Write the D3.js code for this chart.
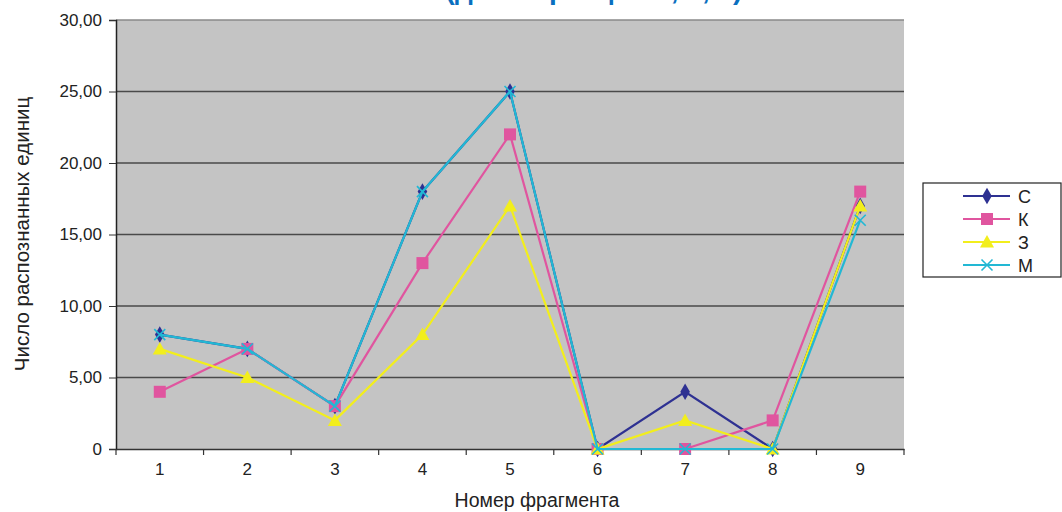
<!DOCTYPE html>
<html><head><meta charset="utf-8">
<script src="https://cdn.jsdelivr.net/npm/d3@7"></script>
<style>body{margin:0;background:#fff;}svg{display:block;}</style>
</head><body>
<svg id="c" width="1062" height="512"></svg>
<script>
const categories = ["1","2","3","4","5","6","7","8","9"];
const seriesNames = ["С","К","З","М"];
const valuesC = [8,7,3,18,25,0,4,0,17];
const valuesK = [4,7,3,13,22,0,0,2,18];
const valuesZ = [7,5,2,8,17,0,2,0,17];
const valuesM = [8,7,3,18,25,0,0,0,16];
const yTicks = [0,5,10,15,20,25,30];
const colors = ["#2e3192","#e0559f","#f2ee1c","#22b8d4"];
const markers = ["diamond","square","triangle","x"];
const titleText = "(для образцов 1, 2, 3)";
const xTitle = "Номер фрагмента";
const yTitle = "Число распознанных единиц";

const series = [valuesC, valuesK, valuesZ, valuesM];
const svg = d3.select("#c");
const font = "'Liberation Sans', Arial, sans-serif";
const L = 116, R = 904, T = 20, B = 449;

const x = d3.scaleBand().domain(categories).range([L, R]);
const y = d3.scaleLinear().domain([0, 30]).range([B, T]);

// title (clipped at the top edge, as in the reference)
svg.append("text").attr("x", 594).attr("y", -1).attr("text-anchor","middle")
  .attr("font-family", font).attr("font-weight","bold").attr("font-size", 28)
  .attr("fill","#0a6fbf").text(titleText);

// plot background
svg.append("rect").attr("x", L).attr("y", T).attr("width", R - L).attr("height", B - T)
  .attr("fill", "#c4c4c4");

// gridlines
svg.append("g").selectAll("line").data(yTicks.filter(d => d > 0)).join("line")
  .attr("x1", L).attr("x2", R).attr("y1", d => y(d)).attr("y2", d => y(d))
  .attr("stroke", d => d === 30 ? "#8a8a8a" : "#4a4a4a").attr("stroke-width", 1.6);

// y axis
const fmt = d => d === 0 ? "0" : d3.format(".2f")(d).replace(".", ",");
const yAxis = svg.append("g").attr("transform", `translate(${L},0)`)
  .call(d3.axisLeft(y).tickValues(yTicks).tickFormat(fmt).tickSize(7).tickPadding(7));
yAxis.select(".domain").attr("stroke", "#222").attr("stroke-width", 1.5);
yAxis.selectAll(".tick line").attr("stroke", "#333");
yAxis.selectAll("text").attr("font-family", font).attr("font-size", 17).attr("fill", "#222");

// x axis
const xAxis = svg.append("g").attr("transform", `translate(0,${B})`)
  .call(d3.axisBottom(x).tickSize(0).tickPadding(14));
xAxis.select(".domain").attr("stroke", "#333").attr("stroke-width", 1.5);
xAxis.selectAll("text").attr("font-family", font).attr("font-size", 17).attr("fill", "#222");
svg.append("g").selectAll("line").data(d3.range(categories.length + 1)).join("line")
  .attr("x1", i => L + i * x.step()).attr("x2", i => L + i * x.step())
  .attr("y1", B).attr("y2", B + 6).attr("stroke", "#333").attr("stroke-width", 1.2);

// axis titles
svg.append("text").attr("x", 537).attr("y", 507).attr("text-anchor", "middle")
  .attr("font-family", font).attr("font-size", 19.5).attr("fill", "#222").text(xTitle);
svg.append("text").attr("transform", "translate(29,234) rotate(-90)").attr("text-anchor", "middle")
  .attr("font-family", font).attr("font-size", 20.5).attr("fill", "#222").text(yTitle);

function drawMarker(g, type, color, cx, cy) {
  if (type === "diamond") {
    g.append("path").attr("d", d3.symbol(d3.symbolDiamond, 80)()).attr("transform", `translate(${cx},${cy})`).attr("fill", color);
  } else if (type === "square") {
    g.append("rect").attr("x", cx - 6).attr("y", cy - 6).attr("width", 12).attr("height", 12).attr("fill", color);
  } else if (type === "triangle") {
    g.append("path").attr("d", `M${cx},${cy-7}L${cx+7},${cy+5.5}L${cx-7},${cy+5.5}Z`).attr("fill", color);
  } else {
    g.append("path").attr("d", `M${cx-5.5},${cy-5.5}L${cx+5.5},${cy+5.5}M${cx-5.5},${cy+5.5}L${cx+5.5},${cy-5.5}`)
      .attr("stroke", color).attr("stroke-width", 1.6).attr("fill", "none");
  }
}

const line = d3.line().x((d, i) => x(categories[i]) + x.bandwidth() / 2).y(d => y(d));
series.forEach((vals, si) => {
  const g = svg.append("g");
  g.append("path").datum(vals).attr("d", line).attr("fill", "none")
    .attr("stroke", colors[si]).attr("stroke-width", 2.2);
  vals.forEach((v, i) => drawMarker(g, markers[si], colors[si], x(categories[i]) + x.bandwidth() / 2, y(v)));
});

// legend
const lg = svg.append("g");
lg.append("rect").attr("x", 923).attr("y", 183).attr("width", 138).attr("height", 94)
  .attr("fill", "#fff").attr("stroke", "#222").attr("stroke-width", 1.2);
seriesNames.forEach((name, i) => {
  const yy = 196 + i * 23;
  lg.append("line").attr("x1", 963).attr("x2", 1010).attr("y1", yy).attr("y2", yy)
    .attr("stroke", colors[i]).attr("stroke-width", 2.2);
  drawMarker(lg, markers[i], colors[i], 987, yy);
  lg.append("text").attr("x", 1018).attr("y", yy + 6.5).attr("font-family", font)
    .attr("font-size", 18).attr("fill", "#222").text(name);
});
</script>
</body></html>
